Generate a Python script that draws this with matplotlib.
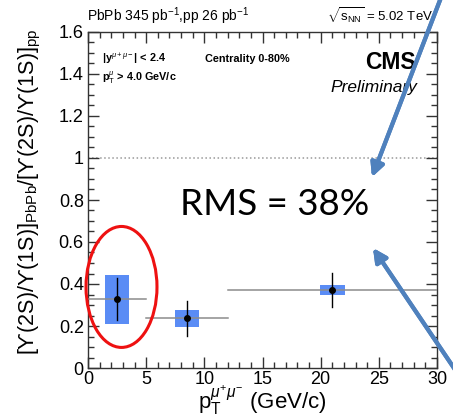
import matplotlib.pyplot as plt
import numpy as np
from matplotlib.patches import Rectangle, Ellipse
from matplotlib.ticker import MultipleLocator

# Double ratio of Upsilon(2S)/Upsilon(1S), PbPb over pp, vs dimuon pT
pt_center = [2.5, 8.5, 21.0]
pt_low = [0.0, 5.0, 12.0]
pt_high = [5.0, 12.0, 30.0]
double_ratio = [0.328, 0.237, 0.373]
stat_err = [0.099, 0.084, 0.081]
syst_err = [0.117, 0.040, 0.024]
box_halfwidth = 1.05

plt.rcParams['font.family'] = ['Liberation Sans', 'DejaVu Sans']
plt.rcParams['mathtext.fontset'] = 'custom'
plt.rcParams['mathtext.rm'] = 'Liberation Sans'
plt.rcParams['mathtext.it'] = 'Liberation Sans:italic'
plt.rcParams['mathtext.bf'] = 'Liberation Sans:bold'

W, H = 453, 419
fig = plt.figure(figsize=(W / 100, H / 100), dpi=100)
ax = fig.add_axes([88 / W, (H - 368) / H, (437 - 88) / W, (368 - 32) / H])

ax.set_xlim(0, 30)
ax.set_ylim(0, 1.6)

# reference line at unity
ax.axhline(1.0, color='#999999', linestyle=':', linewidth=1.1, zorder=1)

for xc, lo, hi, y, st, sy in zip(pt_center, pt_low, pt_high, double_ratio, stat_err, syst_err):
    ax.add_patch(Rectangle((xc - box_halfwidth, y - sy), 2 * box_halfwidth, 2 * sy,
                           facecolor='#5a8cf5', edgecolor='none', zorder=2))
    ax.plot([lo, hi], [y, y], color='#8c8c8c', linewidth=1.1, zorder=3)
    ax.plot([xc, xc], [y - st, y + st], color='black', linewidth=1.0, zorder=4)
    ax.plot(xc, y, 'o', color='black', markersize=4, zorder=5)

# axes styling, ticks on all sides pointing in
ax.xaxis.set_major_locator(MultipleLocator(5))
ax.xaxis.set_minor_locator(MultipleLocator(1))
ax.yaxis.set_major_locator(MultipleLocator(0.2))
ax.yaxis.set_minor_locator(MultipleLocator(0.05))
ax.tick_params(which='both', direction='in', top=True, right=True, colors='#333333',
               labelcolor='black', labelsize=13)
ax.tick_params(which='major', length=8, width=1)
ax.tick_params(which='minor', length=4, width=1)
ax.tick_params(axis='x', pad=2)
ax.tick_params(axis='y', pad=3)
ax.yaxis.set_major_formatter(plt.FuncFormatter(lambda v, p: f"{v:g}"))
for s in ax.spines.values():
    s.set_color('#333333')
    s.set_linewidth(1.0)

ax.set_xlabel(r"p$_{\rm T}^{\mu^{+}\mu^{-}}$ (GeV/c)", fontsize=16, labelpad=-2.5)
ax.set_ylabel("[ϒ(2S)/ϒ(1S)]$_{\\rm PbPb}$/[ϒ(2S)/ϒ(1S)]$_{\\rm pp}$", fontsize=15.5)
ax.yaxis.set_label_coords(-0.13, 0.525)

# header texts
fig.text(87 / W, 1 - 16 / H, r"PbPb 345 pb$^{-1}$,pp 26 pb$^{-1}$", fontsize=10, va='center')
fig.text(327 / W, 1 - 16 / H, r"$\sqrt{\rm s_{NN}}$ = 5.02 TeV", fontsize=9.5, va='center')

# labels inside the frame
ax.text(0.04, 0.92, r"|y$^{\mu+\mu-}$| < 2.4", transform=ax.transAxes, fontsize=7.8,
        fontweight='bold', va='center')
ax.text(0.04, 0.865, r"p$_{\rm T}^{\mu}$ > 4.0 GeV/c", transform=ax.transAxes, fontsize=7.8,
        fontweight='bold', va='center')
ax.text(0.335, 0.92, "Centrality 0-80%", transform=ax.transAxes, fontsize=7.8,
        fontweight='bold', va='center')
ax.text(0.94, 0.91, "CMS", transform=ax.transAxes, fontsize=16.5, fontweight='bold',
        ha='right', va='center')
ax.text(0.945, 0.835, "Preliminary", transform=ax.transAxes, fontsize=12.5, style='italic',
        ha='right', va='center')

fig.text(180 / W, 1 - 204 / H, "RMS = 38%", fontsize=26.5, family=['Lato', 'DejaVu Sans'],
         va='center')

# highlight on the lowest pT bin
ax.add_patch(Ellipse((2.88, 0.386), 6.1, 0.576, fill=False, edgecolor='#ee1111',
                     linewidth=2.2, clip_on=False, zorder=6))

# pointer arrows
arrow_style = dict(arrowstyle='-|>,head_length=0.8,head_width=0.4', color='#4f81bd',
                   linewidth=3, shrinkA=0, shrinkB=0)
fig.add_artist(plt.annotate("", xy=(372 / W, 1 - 177 / H), xytext=(442 / W, 1 + 5 / H),
                            xycoords='figure fraction', textcoords='figure fraction',
                            arrowprops=arrow_style, annotation_clip=False))
fig.add_artist(plt.annotate("", xy=(373 / W, 1 - 248 / H), xytext=(462 / W, 1 - 380 / H),
                            xycoords='figure fraction', textcoords='figure fraction',
                            arrowprops=arrow_style, annotation_clip=False))

fig.savefig("out.png", dpi=100)
